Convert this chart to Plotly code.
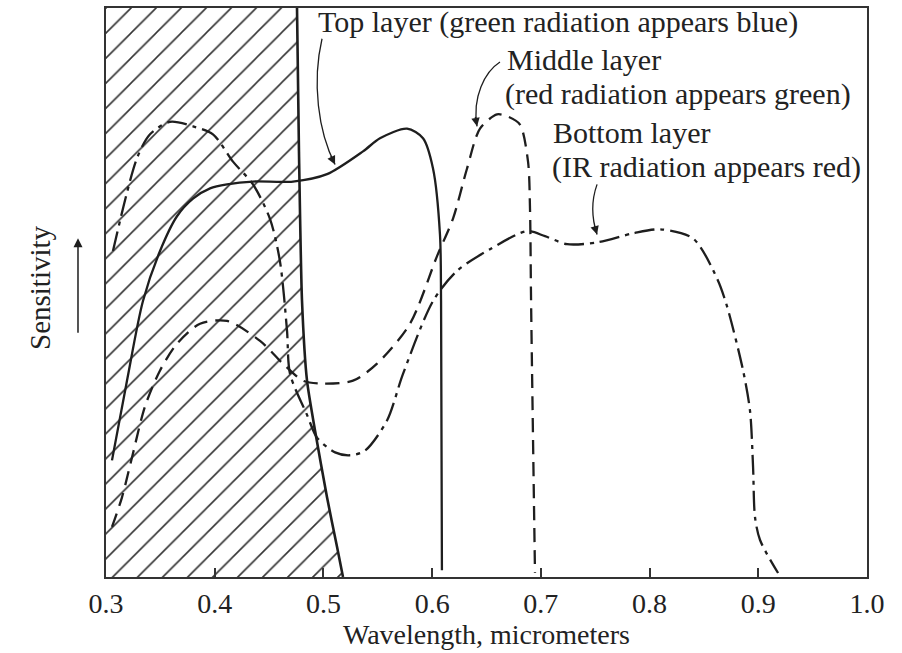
import plotly.graph_objects as go

# ---------------- data ----------------
top_x = [0.3055, 0.3193, 0.334, 0.3497, 0.3653, 0.38, 0.3957, 0.4113, 0.4352, 0.472,
         0.5033, 0.5364, 0.552, 0.5769, 0.5916, 0.6008, 0.6072, 0.6082, 0.609]
top_y = [20.5, 34.5, 48.5, 57.3, 63.4, 66.5, 68.3, 69.0, 69.5, 69.5,
         70.8, 74.8, 77.1, 78.8, 77.1, 71.8, 60.2, 48.5, 1.2]

mid_x = [0.3055, 0.3147, 0.3239, 0.3359, 0.3497, 0.3653, 0.3865, 0.4113, 0.4417, 0.4628,
         0.4812, 0.4996, 0.5272, 0.5493, 0.5796, 0.6045, 0.6192, 0.6321, 0.644, 0.6597,
         0.6698, 0.6808, 0.6882, 0.69, 0.691, 0.6946]
mid_y = [8.8, 14.0, 21.0, 30.0, 36.3, 41.0, 44.5, 45.0, 41.5, 37.5,
         34.5, 34.0, 34.5, 37.5, 44.5, 56.4, 63.0, 71.8, 78.8, 81.3,
         80.9, 79.5, 73.0, 64.8, 48.5, 0.7]

bot_x = [0.3064, 0.3285, 0.3405, 0.3589, 0.38, 0.3984, 0.4168, 0.4352, 0.4509, 0.46,
         0.4665, 0.4693, 0.4849, 0.4941, 0.5107, 0.5245, 0.5382, 0.5585, 0.5732, 0.6008,
         0.6229, 0.6532, 0.6873, 0.7038, 0.7241, 0.7517, 0.7848, 0.8096, 0.84, 0.862,
         0.8712, 0.886, 0.8924, 0.8952, 0.897, 0.9016, 0.9182]
bot_y = [57.3, 73.6, 77.8, 80.0, 79.2, 77.8, 73.0, 69.0, 62.9, 55.5,
         43.3, 35.7, 28.5, 24.5, 21.9, 21.4, 22.2, 27.5, 35.7, 48.5,
         53.8, 57.6, 60.8, 59.9, 58.5, 58.8, 60.4, 61.1, 59.5, 52.5,
         47.6, 36.3, 29.2, 19.3, 10.5, 6.5, 0.7]

# hatched (absorbed) region boundary
hatch_x = [0.4757, 0.4775, 0.4803, 0.4849, 0.4923, 0.5033, 0.5125, 0.518]
hatch_y = [100.0, 74.8, 48.5, 34.5, 25.7, 14.0, 5.3, 0.0]

tick_vals = [0.3, 0.4, 0.5, 0.6, 0.7, 0.8, 0.9, 1.0]
tick_text = ["0.3", "0.4", "0.5", "0.6", "0.7", "0.8", "0.9", "1.0"]

labels = [
    ("Top layer (green radiation appears blue)", 0.4932, 97.6),
    ("Middle layer", 0.667, 90.9),
    ("(red radiation appears green)", 0.6652, 84.8),
    ("Bottom layer", 0.7094, 78.2),
    ("(IR radiation appears red)", 0.7084, 72.0),
]

# leader curves: start, ctrl1, ctrl2, tip
leaders = [
    [(0.4987, 94.6), (0.4895, 87.0), (0.495, 78.3), (0.5107, 72.5)],
    [(0.6624, 90.5), (0.6486, 88.8), (0.6367, 84.4), (0.6413, 79.2)],
    [(0.7517, 69.0), (0.7461, 66.0), (0.747, 62.9), (0.7517, 60.2)],
]
head_dirs = [(-5, -10), (-2, -11), (-3, -10)]

# ---------------- figure ----------------
INK = "#1e1e1e"
FONT = "Liberation Serif"

fig = go.Figure()

poly_x = [0.3, 0.3] + hatch_x + [0.3]
poly_y = [0.0, 100.0] + hatch_y + [0.0]
fig.add_trace(go.Scatter(
    x=poly_x, y=poly_y, mode="lines", fill="toself",
    line=dict(width=0, color="rgba(0,0,0,0)"),
    fillcolor="white",
    fillpattern=dict(shape="/", size=17.7, solidity=0.09, fgcolor="#333333",
                     bgcolor="white", fillmode="replace"),
    hoverinfo="skip", showlegend=False))

fig.add_trace(go.Scatter(x=hatch_x, y=hatch_y, mode="lines",
                         line=dict(color=INK, width=2.6, shape="spline", smoothing=0.6),
                         showlegend=False, hoverinfo="skip"))

fig.add_trace(go.Scatter(x=top_x, y=top_y, mode="lines", name="Top layer",
                         line=dict(color=INK, width=2.3, shape="spline", smoothing=0.8),
                         showlegend=False))
fig.add_trace(go.Scatter(x=mid_x, y=mid_y, mode="lines", name="Middle layer",
                         line=dict(color=INK, width=2.3, dash="14px,8px",
                                   shape="spline", smoothing=0.8),
                         showlegend=False))
fig.add_trace(go.Scatter(x=bot_x, y=bot_y, mode="lines", name="Bottom layer",
                         line=dict(color=INK, width=2.3, dash="20px,6px,4px,6px",
                                   shape="spline", smoothing=0.8),
                         showlegend=False))

annotations = []
for txt, lx, ly in labels:
    annotations.append(dict(x=lx, y=ly, xref="x", yref="y", text=txt, showarrow=False,
                            xanchor="left", yanchor="middle",
                            font=dict(family=FONT, size=30, color="#222")))

shapes = []
for pts, (ax, ay) in zip(leaders, head_dirs):
    (x0, y0), (x1, y1), (x2, y2), (x3, y3) = pts
    shapes.append(dict(type="path", xref="x", yref="y",
                       path=f"M {x0},{y0} C {x1},{y1} {x2},{y2} {x3},{y3}",
                       line=dict(color=INK, width=1.3), layer="above"))
    annotations.append(dict(x=x3, y=y3, xref="x", yref="y", text="", showarrow=True,
                            ax=ax, ay=ay, arrowhead=2, arrowsize=1.3, arrowwidth=1.3,
                            arrowcolor=INK))

# y-axis label and arrow
annotations.append(dict(x=-0.0867, y=0.508, xref="paper", yref="paper", text="Sensitivity",
                        textangle=-90, showarrow=False, xanchor="center", yanchor="middle",
                        font=dict(family=FONT, size=29, color="#222")))
annotations.append(dict(x=-0.0368, y=0.5954, xref="paper", yref="paper", text="",
                        showarrow=True, ax=0, ay=96, arrowhead=2, arrowsize=1.2,
                        arrowwidth=1.5, arrowcolor=INK))

fig.update_layout(
    width=902, height=653,
    margin=dict(l=106, r=35, t=6, b=76),
    paper_bgcolor="white", plot_bgcolor="white",
    font=dict(family=FONT, size=28, color="#222"),
    annotations=annotations, shapes=shapes,
    showlegend=False,
)
fig.update_xaxes(range=[0.3, 1.0], tickvals=tick_vals, ticktext=tick_text,
                 ticks="inside", ticklen=9, tickwidth=1.5, tickcolor="#333",
                 showline=True, linecolor="#333", linewidth=2, mirror=True,
                 showgrid=False, zeroline=False, ticklabelstandoff=0,
                 tickfont=dict(family=FONT, size=28, color="#222"),
                 title=dict(text="Wavelength, micrometers", standoff=4,
                            font=dict(family=FONT, size=28, color="#222")))
fig.update_yaxes(range=[0, 100], showticklabels=False, ticks="",
                 showline=True, linecolor="#333", linewidth=2, mirror=True,
                 showgrid=False, zeroline=False)

fig.write_html("out.html")
